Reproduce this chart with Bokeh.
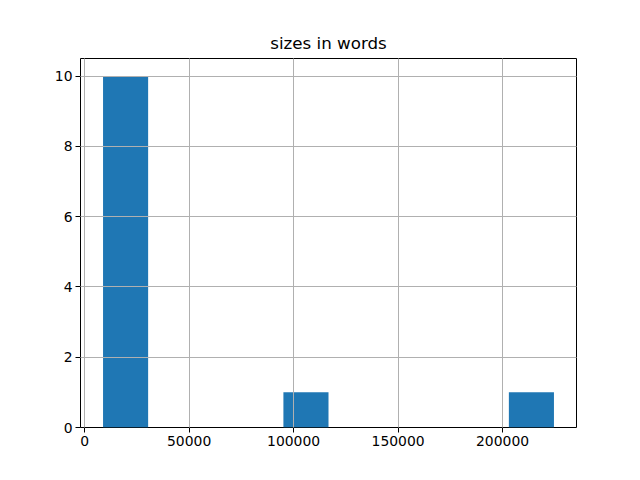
import numpy as np
from bokeh.plotting import figure
from bokeh.models import FixedTicker, Range1d, NumeralTickFormatter
from bokeh.embed import file_html
from bokeh.resources import INLINE

# histogram of document sizes (10 bins, pandas .hist style)
bin_min = 8800
bin_max = 224600
counts = [10, 0, 0, 0, 1, 0, 0, 0, 0, 1]
x_ticks = [0, 50000, 100000, 150000, 200000]
y_ticks = [0, 2, 4, 6, 8, 10]
title_text = "sizes in words"

edges = np.linspace(bin_min, bin_max, len(counts) + 1)
lefts = edges[:-1]
rights = edges[1:]
span = bin_max - bin_min

p = figure(width=624, height=464, output_backend="svg", toolbar_location=None,
           x_range=Range1d(bin_min - 0.05 * span, bin_max + 0.05 * span),
           y_range=Range1d(0, max(counts) * 1.05),
           min_border_left=80, min_border_right=48, min_border_top=58, min_border_bottom=37)

p.quad(left=lefts, right=rights, bottom=0, top=counts, fill_color="#1f77b4", line_color=None)

p.title.text = title_text
p.title.align = "center"
p.title.text_font = "DejaVu Sans"
p.title.text_font_size = "16.7px"
p.title.text_font_style = "normal"
p.title.text_color = "black"
p.title.standoff = 11

for ax in (p.xaxis[0], p.yaxis[0]):
    ax.axis_line_color = None
    ax.major_tick_out = 5
    ax.major_tick_in = 0
    ax.major_tick_line_color = "black"
    ax.minor_tick_line_color = None
    ax.major_label_text_font = "DejaVu Sans"
    ax.major_label_text_font_size = "13.9px"
    ax.major_label_text_color = "black"
    ax.major_label_standoff = 3

p.xaxis.ticker = FixedTicker(ticks=x_ticks)
p.yaxis.ticker = FixedTicker(ticks=y_ticks)
p.xaxis.formatter = NumeralTickFormatter(format="0")

p.xgrid.ticker = FixedTicker(ticks=x_ticks)
p.ygrid.ticker = FixedTicker(ticks=y_ticks)
for g in (p.xgrid[0], p.ygrid[0]):
    g.grid_line_color = "#b0b0b0"
    g.grid_line_width = 1
    g.level = "guide"

p.outline_line_color = "black"
p.outline_line_width = 1
p.background_fill_color = "white"
p.border_fill_color = "white"

open("out.html", "w").write(file_html(p, INLINE))
